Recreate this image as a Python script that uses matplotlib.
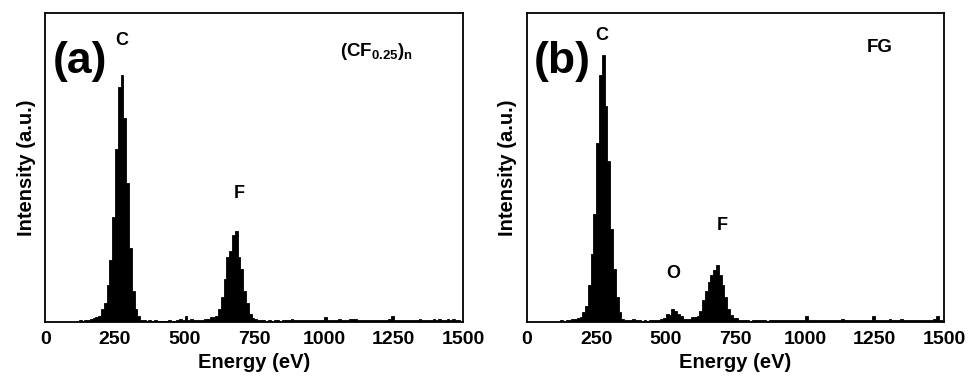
#EDS spectra of the two samples, (a) (CF0.25)n and (b) FG

import numpy as np
import matplotlib.pyplot as plt

plt.rcParams['font.family'] = ['Liberation Sans', 'DejaVu Sans']
plt.rcParams['font.weight'] = 'bold'
plt.rcParams['mathtext.fontset'] = 'custom'
plt.rcParams['mathtext.bf'] = 'Liberation Sans:bold'
plt.rcParams['mathtext.rm'] = 'Liberation Sans:bold'

#energy bins, 10 eV wide from 0 to 1500 eV
bin_edges = np.arange(0, 1510, 10)

#counts per bin for (CF0.25)n, one row = 100 eV
counts_cf = [
    0, 0, 0, 0, 0, 0, 0, 0, 0, 0,
    0, 0, 0.5, 0.3, 0.6, 0.5, 0.8, 1.2, 1.5, 2,
    4, 6, 12, 20, 34, 56, 76, 80, 66, 45,
    24, 10, 4, 2, 0.6, 0.4, 0.3, 0.5, 0.2, 0.7,
    0.2, 0.3, 0.2, 0.3, 0.4, 0.3, 0.2, 0.6, 0.8, 0.5,
    1.8, 0.6, 0.8, 0.5, 0.7, 0.4, 0.6, 1.0, 1.0, 1.5,
    1.5, 2, 4, 8, 14, 21, 23, 28, 29.5, 21,
    17, 10, 6, 2.5, 1.2, 1.0, 0.6, 0.4, 0.5, 0.3,
    0.5, 0.3, 0.4, 0.6, 0.3, 0.5, 0.4, 0.6, 1.0, 0.4,
    0.5, 0.4, 0.6, 0.5, 0.6, 0.4, 0.5, 0.7, 0.5, 0.6,
    1.6, 0.5, 0.6, 0.7, 0.6, 0.8, 0.6, 0.5, 0.6, 0.8,
    0.9, 1.0, 0.7, 0.5, 0.6, 0.5, 0.7, 0.5, 0.6, 0.5,
    0.6, 0.7, 0.5, 0.8, 1.8, 0.7, 0.6, 0.5, 0.7, 0.5,
    0.6, 0.5, 0.7, 0.5, 0.8, 0.6, 0.5, 0.7, 0.6, 0.9,
    0.6, 0.8, 0.5, 0.7, 0.9, 0.6, 0.8, 0.5, 0.4, 0.2,
]

#counts per bin for FG
counts_fg = [
    0, 0, 0, 0, 0, 0, 0, 0, 0, 0,
    0, 0, 0.5, 0.3, 0.4, 0.6, 0.8, 1.0, 1.2, 1.5,
    3, 5, 12, 22, 35, 58, 80, 86.5, 70, 52,
    30, 17, 8, 3, 1, 0.5, 0.4, 0.6, 0.8, 0.5,
    0.4, 0.3, 0.4, 0.3, 0.5, 0.4, 0.6, 0.4, 1.0, 1.2,
    2.5, 2.2, 4.0, 3.6, 2.4, 1.8, 1.0, 0.8, 1.0, 1.5,
    1.5, 2.0, 3.5, 7, 10, 13, 15, 16.8, 18.4, 15,
    12, 8, 4, 2.2, 1.3, 1.2, 0.6, 0.5, 0.4, 0.5,
    0.3, 0.5, 0.4, 0.6, 0.4, 0.5, 0.3, 0.5, 0.6, 0.4,
    0.5, 0.4, 0.6, 0.5, 0.4, 0.6, 0.5, 0.4, 0.6, 0.5,
    2.0, 0.6, 0.5, 0.6, 0.4, 0.5, 0.6, 0.5, 0.6, 0.7,
    0.5, 0.6, 0.5, 0.8, 0.6, 0.5, 0.7, 0.6, 0.5, 0.6,
    0.5, 0.6, 0.7, 0.5, 1.8, 0.7, 0.6, 0.5, 0.6, 0.7,
    0.8, 0.5, 0.6, 0.7, 0.8, 0.5, 0.6, 0.7, 0.6, 0.5,
    0.6, 0.5, 0.7, 0.6, 0.5, 0.6, 0.8, 1.8, 0.6, 0.3,
]

x_ticks = [0, 250, 500, 750, 1000, 1250, 1500]

#peak labels: (text, energy, height)
peaks_cf = [('C', 275, 89.7), ('F', 695, 40.1)]
peaks_fg = [('C', 270, 91.3), ('O', 527, 14.2), ('F', 703, 29.7)]

fig = plt.figure(figsize=(9.71, 3.78), dpi=100)
ax_a = fig.add_axes([0.0467, 0.149, 0.4304, 0.8158])
ax_b = fig.add_axes([0.5424, 0.149, 0.4301, 0.8158])

panels = [
    (ax_a, counts_cf, peaks_cf, '(a)', r'$\mathbf{(CF_{0.25})_{n}}$', 0.705, 0.862),
    (ax_b, counts_fg, peaks_fg, '(b)', 'FG', 0.815, 0.875),
]

for ax, counts, peaks, tag, name, nx, ny in panels:
    # edge drawn too so the bins don't leave white seams
    ax.stairs(counts, bin_edges, fill=True, facecolor='black',
              edgecolor='black', linewidth=0.6)
    ax.set_xlim(0, 1500)
    ax.set_ylim(0, 100)
    ax.set_xticks(x_ticks)
    ax.set_yticks([])
    ax.tick_params(axis='x', length=0, pad=7, labelsize=14)
    for lbl in ax.get_xticklabels():
        lbl.set_fontweight('bold')
    for s in ax.spines.values():
        s.set_linewidth(1.3)
    ax.set_xlabel('Energy (eV)', fontsize=14.5, fontweight='bold', labelpad=3)
    ax.set_ylabel('Intensity (a.u.)', fontsize=14.5, fontweight='bold', labelpad=7)

    # big panel letter in the corner
    ax.text(0.018, 0.806, tag, transform=ax.transAxes, fontsize=32,
            fontweight='bold', va='baseline', ha='left')
    # sample name top right
    ax.text(nx, ny, name, transform=ax.transAxes, fontsize=13.5,
            fontweight='bold', va='baseline', ha='left')
    for txt, e, h in peaks:
        ax.text(e, h, txt, fontsize=13, fontweight='bold', ha='center', va='baseline')

plt.savefig('out.png', dpi=100)
